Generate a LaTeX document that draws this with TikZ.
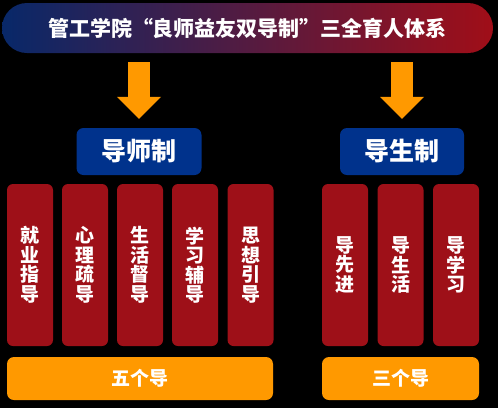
\documentclass[tikz,border=0pt]{standalone}
\usepackage{fontspec}
\newfontfamily\cjk{Noto Sans CJK SC}
\usetikzlibrary{arrows.meta}
\definecolor{titleblue}{RGB}{8,40,105}
\definecolor{titlemid}{RGB}{78,24,68}
\definecolor{titlered}{RGB}{160,14,24}
\definecolor{boxblue}{RGB}{0,50,140}
\definecolor{barred}{RGB}{158,16,24}
\definecolor{guideorange}{RGB}{255,153,0}

\begin{document}
\begin{tikzpicture}[
    x=1pt, y=-1pt,
    every node/.style={text=white, inner sep=0pt},
    titlebar/.style={rounded corners=25pt, minimum width=491pt, minimum height=50pt, left color=titleblue, middle color=titlemid, right color=titlered, font=\cjk\bfseries\fontsize{21}{24}\selectfont},
    systembox/.style={fill=boxblue, rounded corners=7pt, minimum width=125pt, minimum height=47pt, font=\cjk\bfseries\fontsize{25}{28}\selectfont},
    barbox/.style={fill=barred, rounded corners=6pt, minimum width=46pt, minimum height=162pt, align=center, font=\cjk\bfseries\fontsize{19}{19.5}\selectfont},
    sumbox/.style={fill=guideorange, rounded corners=7pt, minimum height=43pt, font=\cjk\bfseries\fontsize{19}{22}\selectfont},
    downarrow/.style={draw=guideorange, line width=22pt, -{Triangle[width=44pt, length=22pt, line width=0pt, fill=guideorange]}, shorten <=9pt, shorten >=9pt}
]
\fill[black] (0,0) rectangle (498,408);

\node[titlebar] (title) at (247.5,28) {管工学院“良师益友双导制”三全育人体系};

\node[systembox] (tutor) at (139,151.5) {导师制};
\node[systembox, minimum width=124pt] (peer) at (402,151.5) {导生制};

\draw[downarrow] (title.south -| tutor.north) -- (tutor.north);
\draw[downarrow] (title.south -| peer.north) -- (peer.north);

\node[barbox] (career) at (30,265) {就\\业\\指\\导};
\node[barbox] (mind) at (85,265) {心\\理\\疏\\导};
\node[barbox] (life) at (140,265) {生\\活\\督\\导};
\node[barbox] (study) at (195,265) {学\\习\\辅\\导};
\node[barbox] (thought) at (250.5,265) {思\\想\\引\\导};

\node[barbox] (advance) at (345,265) {导\\先\\进};
\node[barbox] (peerlife) at (400.5,265) {导\\生\\活};
\node[barbox] (peerstudy) at (456,265) {导\\学\\习};

\node[sumbox, minimum width=266pt] (fivesum) at (140,378.5) {五个导};
\node[sumbox, minimum width=157pt] (threesum) at (400.5,378.5) {三个导};
\end{tikzpicture}
\end{document}
